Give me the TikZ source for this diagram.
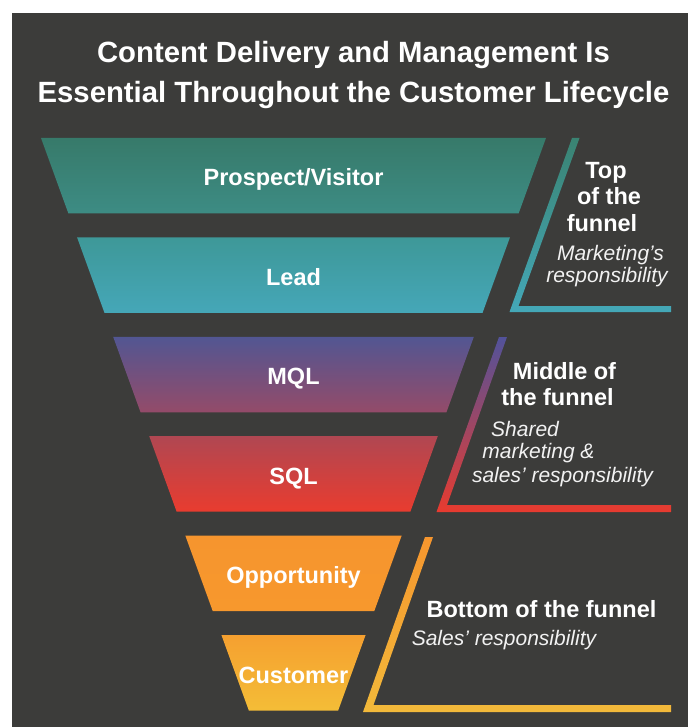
\documentclass[tikz,border=0pt]{standalone}
\usepackage{fontspec}
\setmainfont{Liberation Sans}
\definecolor{bg}{HTML}{3C3C3A}
\definecolor{s1a}{HTML}{377A6A}
\definecolor{s1b}{HTML}{3D8C84}
\definecolor{s2a}{HTML}{3E9898}
\definecolor{s2b}{HTML}{45A7B8}
\definecolor{s3a}{HTML}{525692}
\definecolor{s3b}{HTML}{944B69}
\definecolor{s4a}{HTML}{B04752}
\definecolor{s4b}{HTML}{E93C2F}
\definecolor{s5a}{HTML}{F6952E}
\definecolor{s5b}{HTML}{F7982D}
\definecolor{s6a}{HTML}{F5A030}
\definecolor{s6b}{HTML}{F4BD37}
\definecolor{b1a}{HTML}{3A8372}
\definecolor{b1b}{HTML}{44A8B8}
\definecolor{b2a}{HTML}{52529A}
\definecolor{b2b}{HTML}{E83B2F}
\definecolor{b3a}{HTML}{F6962E}
\definecolor{b3b}{HTML}{F2B93A}
\newcommand\funnelstage[5]{%
  \pgfmathsetmacro\yt{138+99.4*#1}%
  \pgfmathsetmacro\yb{\yt+75.5}%
  \pgfmathsetmacro\xlt{41+0.363*(\yt-138)}%
  \pgfmathsetmacro\xrt{546-0.363*(\yt-138)}%
  \pgfmathsetmacro\xlb{41+0.363*(\yb-138)}%
  \pgfmathsetmacro\xrb{546-0.363*(\yb-138)}%
  \shade[top color=#2,bottom color=#3] (\xlt,\yt) -- (\xrt,\yt) -- (\xrb,\yb) -- (\xlb,\yb) -- cycle;
  \node[stagelabel] (#4) at (293.5,\yt+48) {#5};
}
\tikzset{
  stagelabel/.style={anchor=base,inner sep=0pt,text=white,font=\fontsize{23.5}{27}\selectfont\bfseries},
  headtext/.style={anchor=base,inner sep=0pt,text=white,font=\fontsize{23.5}{27}\selectfont\bfseries},
  subtext/.style={anchor=base,inner sep=0pt,text=white!95!black,font=\fontsize{21}{24}\selectfont\itshape},
  titletext/.style={anchor=base,inner sep=0pt,text=white,font=\fontsize{29.3}{34}\selectfont\bfseries}
}
\begin{document}
\begin{tikzpicture}[x=1pt,y=-1pt]
\useasboundingbox (0,0) rectangle (688,727);
\fill[white] (0,0) rectangle (688,727);
\fill[bg] (12,13) rectangle (688,727);
% title
\node[titletext] (title1) at (353.5,63) {Content Delivery and Management Is};
\node[titletext] (title2) at (353.5,103) {Essential Throughout the Customer Lifecycle};
% funnel
\funnelstage{0}{s1a}{s1b}{prospect}{Prospect/Visitor}
\funnelstage{1}{s2a}{s2b}{lead}{Lead}
\funnelstage{2}{s3a}{s3b}{mql}{MQL}
\funnelstage{3}{s4a}{s4b}{sql}{SQL}
\funnelstage{4}{s5a}{s5b}{opp}{Opportunity}
\funnelstage{5}{s6a}{s6b}{cust}{Customer}
% brackets
\shade[top color=b1a,bottom color=b1b] (572,138) -- (579.5,138) -- (518.5,306) -- (671,306) -- (671,312) -- (509.5,312) -- cycle;
\shade[top color=b2a,bottom color=b2b] (499,337) -- (507,337) -- (447,505) -- (671,505) -- (671,512) -- (436.5,512) -- cycle;
\shade[top color=b3a,bottom color=b3b] (425,537) -- (433,537) -- (373.5,705) -- (671,705) -- (671,712) -- (363,712) -- cycle;
% top of funnel text
\node[headtext] (top1) at (606,179) {Top};
\node[headtext] (top2) at (609,205) {of the};
\node[headtext] (top3) at (602,231) {funnel};
\node[subtext] (top4) at (610.5,260) {Marketing’s};
\node[subtext] (top5) at (607,282) {responsibility};
% middle
\node[headtext] (mid1) at (564.5,379) {Middle of};
\node[headtext] (mid2) at (557.5,405) {the funnel};
\node[subtext] (mid3) at (525,436) {Shared};
\node[subtext] (mid4) at (538.5,458) {marketing \&};
\node[subtext] (mid5) at (562.5,482) {sales’ responsibility};
% bottom
\node[headtext] (bot1) at (541.5,617) {Bottom of the funnel};
\node[subtext] (bot2) at (504,645) {Sales’ responsibility};
\end{tikzpicture}
\end{document}
